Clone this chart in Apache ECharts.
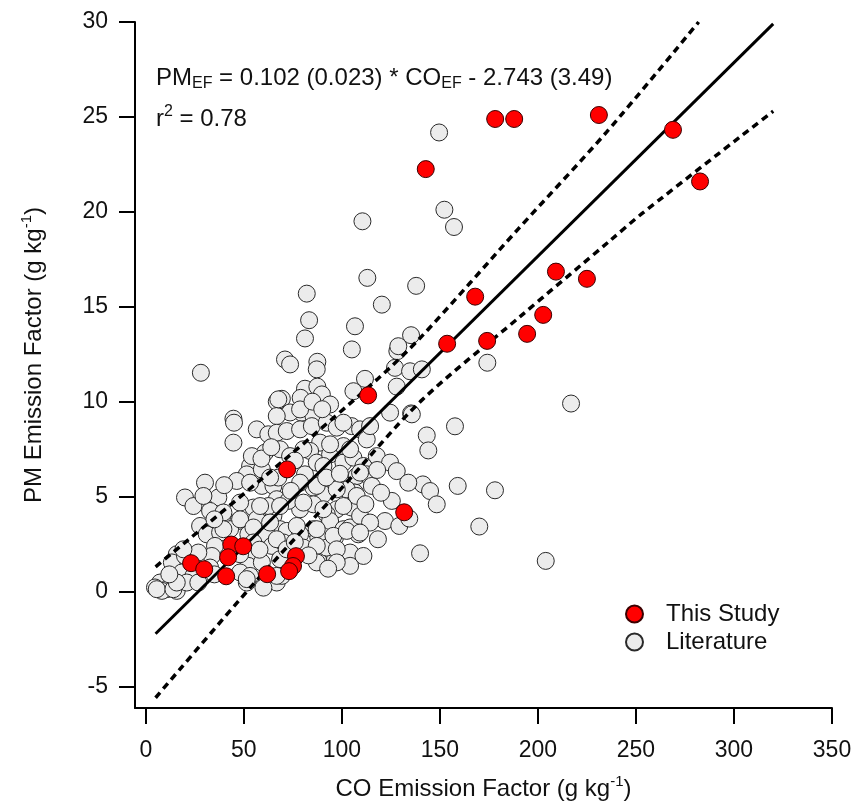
<!DOCTYPE html>
<html>
<head>
<meta charset="utf-8">
<script src="https://cdn.jsdelivr.net/npm/echarts@6/dist/echarts.min.js"></script>
<style>html,body{margin:0;padding:0;background:#fff;}#c{width:859px;height:806px;}</style>
</head>
<body>
<div id="c"></div>
<script>
// ---- data ----
const xTicks = [0, 50, 100, 150, 200, 250, 300, 350];
const yTicks = [-5, 0, 5, 10, 15, 20, 25, 30];

const thisStudy = [
  [142.8,22.25],[178.2,24.89],[187.9,24.89],[231.1,25.1],[268.9,24.32],[282.7,21.6],
  [209.2,16.85],[225,16.47],[168,15.53],[202.7,14.57],[194.5,13.57],[153.7,13.05],
  [174.1,13.2],[113.4,10.33],[72.1,6.43],[131.8,4.17],[43.6,2.47],[49.7,2.38],
  [42,1.8],[23.1,1.49],[29.8,1.17],[41,0.8],[61.9,0.91],[76.6,1.86],[75.1,1.34],[73.1,1.07]
];

const literature = [
  [149.6,24.18],[152.3,20.11],[157.2,19.2],[137.9,16.1],[174.2,12.05],[216.9,9.9],[135.3,9.38],
  [157.7,8.7],[143.3,8.22],[144.1,7.43],[141.3,5.64],[145,5.29],[148.4,4.59],[159.1,5.56],
  [178.1,5.33],[170.1,3.42],[204,1.61],[139.9,2.01],
  [110.5,19.5],[113,16.52],[82.1,15.69],[120.4,15.11],[83.3,14.29],[106.7,13.97],[81.2,13.33],
  [135.3,13.5],[105.1,12.75],[128.3,12.66],[128.8,12.92],[71,12.22],[73.6,11.96],[87.5,12.1],
  [87.2,11.7],[111.8,11.2],[105.9,10.55],[127.1,11.78],[134.8,11.6],[128,10.79],[140.8,11.7],
  [81.2,10.68],[87.5,10.79],[79,10.2],[89.8,10.38],[94,9.85],[69.4,10.15],[135.7,9.33],
  [124.6,9.42],[79.5,9.42],[85.5,9.24],[73.6,9.43],
  [28.1,11.52],[66.8,10.0],[44.7,9.1],[66.8,9.24],
  [45,8.89],[56.6,8.54],[62.5,8.28],[66.8,8.36],[44.7,7.84],[60.8,7.31],[53.2,6.61],[51.5,6.17],
  [46.4,5.82],[30.2,5.73],[59.2,5.56],[65.1,5.56],[20,4.95],[37,4.95],[24.3,4.5],[32.8,4.24],
  [39.6,4.16],[47.2,3.71],[54.9,4.42],[56.6,3.8],[65.1,3.98],[68.5,3.28],[27.7,3.45],[31.1,3.01],
  [37.9,3.1],[43,3.28],[61.7,3.01],[52.3,3.01],[64.3,2.4],[55.7,2.05],[35.3,2.4],[33.7,1.87],
  [15.8,1.96],[13.3,1.53],[20,1.87],[26.8,2.05],[52.3,1.35],[59.2,1.53],[48.1,1.0],[53.2,0.82],
  [18.4,1.0],[24.3,0.82],[32.8,1.26],[7.3,0.47],[4.7,0.21],[10.7,0.12],[15.8,0.03],[8.2,0.03],
  [20.9,0.47],[26.8,0.47],[51.5,0.47],[66.8,0.47],[48.1,1.96],[68.5,1.7],[66.8,4.86],[62.5,4.5],
  [59.2,6.43],[53.2,5.73],[68.5,7.49],[67.6,6.0],
  [71.9,8.45],[78.7,8.54],[84.7,8.71],[92.3,8.89],[97.4,8.63],[105,8.71],[109.3,8.54],[112.7,8.01],
  [117.8,7.13],[124.6,6.79],[128,6.34],[133.9,5.73],[88.9,7.84],[83.8,7.4],[73.6,7.13],
  [81.2,6.17],[87.2,6.79],[94,7.22],[100.8,6.79],[105.9,7.05],[100.8,7.66],[111,6.61],[107.6,6.08],
  [112.7,6.17],[115.3,5.56],[106.7,5.21],[102.5,5.38],[96.5,5.64],[90.6,5.12],[85.5,5.47],[78.7,4.33],
  [72.7,4.77],[85.5,4.59],[97.4,4.33],[105,4.42],[92.3,4.07],[125.5,4.77],[122,3.71],[129.3,3.45],
  [134.4,3.84],[94,3.71],[85.5,3.28],[100.8,3.28],[104.2,3.37],[108.4,3.01],[71.9,3.19],[78.7,3.01],
  [88,2.84],[96.5,2.84],[80.4,2.31],[70.2,2.58],[88,1.61],[96.5,1.7],[104.2,2.05],[111,1.87],
  [104.2,1.35],[92.3,2.31],[69.4,0.82],
  [67.6,10.12],[78.7,9.59],[100.8,8.89],[114.4,8.71],[54.1,7.13],[80.4,7.49],[94,7.75],[104.2,7.49],
  [90.6,6.61],[109.3,6.26],[63.4,6.0],[78.7,5.73],[87.2,5.56],[97.4,5.38],[107.6,5.03],[29.4,5.03],
  [48.1,4.68],[58.3,4.5],[68.5,4.5],[80.4,4.68],[90.6,4.33],[100.8,4.5],[109.3,3.98],[114.4,3.63],
  [39.6,3.28],[48.1,3.8],[54.9,3.37],[63.4,3.63],[77,3.45],[87.2,3.28],[95.7,2.93],[102.5,3.19],
  [109.3,3.1],[19.2,2.22],[54.9,2.58],[66.8,2.75],[71.9,2.22],[87.2,2.4],[97.4,2.22],[87.2,1.53],
  [97.4,1.53],[66.8,0.82],[51.5,0.65],[5.6,0.12],[14.1,0.12],[15.8,0.47],[118.4,2.75],
  [85,10.0],[90,9.6],[59,7.0],[64,7.6],[76,6.9],[92,6.0],[99,6.2],[118,6.4],[120,5.2],[112,4.6],
  [74,5.3],[40,5.6],[35,3.8],[58,2.2],[76,2.6],[83,1.9],[93,1.2],[60,0.2],[35,0.9],[12,0.9]
];

const fitLine = [[5,-2.23],[320,29.9]];
const upperBand = [[5,1.3],[70,6.87],[118,11.17],[140,13.36],[190,19.1],[235,24.2],[282,30]];
const lowerBand = [[5,-5.6],[55,0.4],[100,5.46],[140,10.0],[190,14.4],[237,18.5],[253,19.9],[320,25.3]];

// ---- chart ----
const FONT = 'Liberation Sans, Arial, sans-serif';
const chart = echarts.init(document.getElementById('c'), null, {renderer: 'canvas'});
const bandStyle = {color: '#000', width: 3.5, type: [7, 5]};
const nameRich = {
  a: {fontSize: 24, fontFamily: FONT, color: '#111', lineHeight: 30},
  s: {fontSize: 15, fontFamily: FONT, color: '#111', verticalAlign: 'top', lineHeight: 15}
};
chart.setOption({
  animation: false,
  backgroundColor: '#fff',
  textStyle: {fontFamily: FONT},
  grid: {left: 135, right: 27, top: 22, bottom: 97, containLabel: false},
  legend: {
    orient: 'vertical', left: 620, top: 597, itemWidth: 17, itemHeight: 17, itemGap: 4,
    icon: 'circle',
    data: ['This Study', 'Literature'],
    textStyle: {fontSize: 24, color: '#111', fontFamily: FONT, padding: [0, 0, 0, 18], lineHeight: 24}
  },
  xAxis: {
    type: 'value', min: -5.5, max: 350,
    name: '{a|CO Emission Factor (g kg}{s|-1}{a|)}',
    nameLocation: 'middle', nameGap: 66,
    nameTextStyle: {rich: nameRich},
    axisLine: {onZero: false, lineStyle: {color: '#000', width: 2}},
    axisTick: {show: true, inside: false, length: 16, lineStyle: {color: '#000', width: 2}, customValues: xTicks},
    axisLabel: {customValues: xTicks, fontSize: 23, color: '#111', margin: 31, fontFamily: FONT},
    splitLine: {show: false}
  },
  yAxis: {
    type: 'value', min: -6.14, max: 30,
    name: '{a|PM Emission Factor (g kg}{s|-1}{a|)}',
    nameLocation: 'middle', nameGap: 86,
    nameTextStyle: {rich: nameRich, padding: [0, 0, 0, 20]},
    axisLine: {onZero: false, lineStyle: {color: '#000', width: 2}},
    axisTick: {show: true, inside: false, length: 16, lineStyle: {color: '#000', width: 2}, customValues: yTicks},
    axisLabel: {customValues: yTicks, fontSize: 23, color: '#111', margin: 27, fontFamily: FONT},
    splitLine: {show: false}
  },
  graphic: [
    {type: 'text', left: 156, top: 66, z: 100, style: {
      text: '{a|PM}{b|EF}{a| = 0.102 (0.023) * CO}{b|EF}{a| - 2.743 (3.49)}',
      rich: {a: {fontSize: 24, fontFamily: FONT, fill: '#111', lineHeight: 28},
             b: {fontSize: 16, fontFamily: FONT, fill: '#111', verticalAlign: 'bottom', lineHeight: 14}}
    }},
    {type: 'text', left: 156, top: 104, z: 100, style: {
      text: '{a|r}{c|2}{a| = 0.78}',
      rich: {a: {fontSize: 24, fontFamily: FONT, fill: '#111', lineHeight: 30},
             c: {fontSize: 16, fontFamily: FONT, fill: '#111', verticalAlign: 'top', lineHeight: 15}}
    }}
  ],
  series: [
    {name: 'Literature', type: 'scatter', data: literature, symbol: 'circle', symbolSize: 17,
     itemStyle: {color: '#ececec', borderColor: '#2a2a2a', borderWidth: 1, opacity: 1}, z: 2},
    {name: 'upper', type: 'line', data: upperBand, smooth: 0.3, symbol: 'none', lineStyle: bandStyle, z: 3, silent: true},
    {name: 'lower', type: 'line', data: lowerBand, smooth: 0.3, symbol: 'none', lineStyle: bandStyle, z: 3, silent: true},
    {name: 'fit', type: 'line', data: fitLine, symbol: 'none', lineStyle: {color: '#000', width: 3}, z: 3, silent: true},
    {name: 'This Study', type: 'scatter', data: thisStudy, symbol: 'circle', symbolSize: 17,
     itemStyle: {color: '#ff0000', borderColor: '#3a0000', borderWidth: 1, opacity: 1}, z: 4}
  ]
});
</script>
</body>
</html>
